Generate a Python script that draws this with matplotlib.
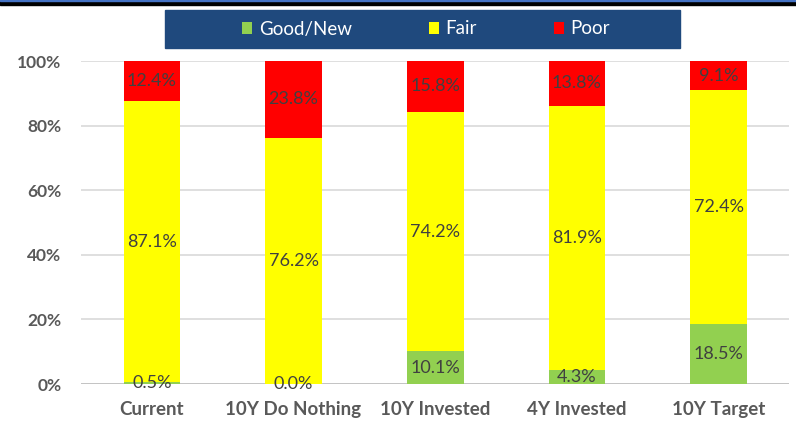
import matplotlib
matplotlib.use("Agg")
import matplotlib.pyplot as plt
from matplotlib.patches import Patch, Rectangle
import numpy as np

categories = ["Current", "10Y Do Nothing", "10Y Invested", "4Y Invested", "10Y Target"]
good_new = [0.5, 0.0, 10.1, 4.3, 18.5]
fair = [87.1, 76.2, 74.2, 81.9, 72.4]
poor = [12.4, 23.8, 15.8, 13.8, 9.1]
series_names = ["Good/New", "Fair", "Poor"]
colors = ["#92D050", "#FFFF00", "#FF0000"]
yticks = [0, 20, 40, 60, 80, 100]

W, H = 796, 423
fig = plt.figure(figsize=(W / 100, H / 100), dpi=100)
ax = fig.add_axes([81 / W, 39 / H, (789.5 - 81) / W, (384 - 61) / H])

font = "Lato"
x = np.arange(len(categories))
bw = 0.4
g = np.array(good_new)
f = np.array(fair)
p = np.array(poor)
b1 = ax.bar(x, g, bw, color=colors[0], zorder=3)
b2 = ax.bar(x, f, bw, bottom=g, color=colors[1], zorder=3)
b3 = ax.bar(x, p, bw, bottom=g + f, color=colors[2], zorder=3)

for bars, vals in [(b1, good_new), (b2, fair), (b3, poor)]:
    ax.bar_label(bars, labels=[f"{v:.1f}%" for v in vals], label_type="center",
                 color="#404040", fontsize=13, family=font, zorder=4)

ax.set_xlim(-0.5, len(categories) - 0.5)
ax.set_ylim(0, 100)
ax.set_yticks(yticks)
ax.set_yticklabels([f"{v}%" for v in yticks])
ax.set_xticks(x)
ax.set_xticklabels(categories)
for lab in ax.get_yticklabels():
    lab.set_family(font)
    lab.set_fontweight("bold")
    lab.set_color("#595959")
    lab.set_fontsize(12.5)
for lab in ax.get_xticklabels():
    lab.set_family(font)
    lab.set_fontweight("bold")
    lab.set_color("#595959")
    lab.set_fontsize(13.5)
ax.tick_params(length=0)
ax.tick_params(axis="y", pad=14)
ax.tick_params(axis="x", pad=12)
for s in ax.spines.values():
    s.set_visible(False)
ax.set_axisbelow(True)
ax.yaxis.grid(True, color="#D9D9D9", lw=1.2, zorder=0)
ax.axhline(0, color="#BFBFBF", lw=1.2, zorder=2)

# top border
fig.add_artist(Rectangle((0, 1 - 5 / H), 1, 4 / H, transform=fig.transFigure,
                         color="black", zorder=5))
fig.add_artist(Rectangle((0, 1 - 1.2 / H), 1, 1.2 / H, transform=fig.transFigure,
                         color="#4472C4", zorder=6))
# legend box
fig.add_artist(Rectangle((165 / W, 1 - 48 / H), (680 - 165) / W, 38 / H,
                         transform=fig.transFigure, color="#1F497D", zorder=5))
handles = [Patch(facecolor=c, edgecolor="none") for c in colors]
leg = fig.legend(handles, series_names, loc="center", ncol=3, frameon=False,
                 bbox_to_anchor=(426 / W, 1 - 29 / H),
                 prop={"family": font, "size": 13.5},
                 handlelength=0.55, handleheight=0.55, handletextpad=0.35,
                 columnspacing=4.1)
leg.set_zorder(7)
for t in leg.get_texts():
    t.set_color("white")

fig.savefig("out.png", dpi=100)
